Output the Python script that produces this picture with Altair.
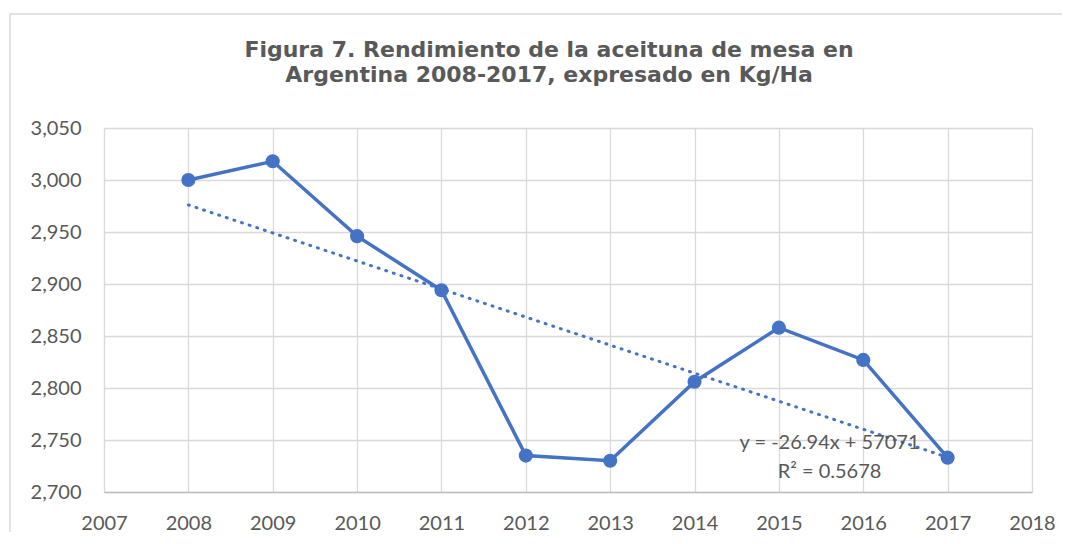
import altair as alt
import pandas as pd

# ---- data ----
years = [2008, 2009, 2010, 2011, 2012, 2013, 2014, 2015, 2016, 2017]
rendimiento = [3000, 3018, 2946, 2894, 2735, 2730, 2806, 2858, 2827, 2733]
x_ticks = list(range(2007, 2019))
y_ticks = [2700, 2750, 2800, 2850, 2900, 2950, 3000, 3050]
title_lines = ["Figura 7. Rendimiento de la aceituna de mesa en",
               "Argentina 2008-2017, expresado en Kg/Ha"]
eq_labels = ["y = -26.94x + 57071", "R² = 0.5678"]
eq_x = [2015.6, 2015.6]
eq_y = [2747, 2719]

df = pd.DataFrame({"Año": years, "Rendimiento": rendimiento})
eq_df = pd.DataFrame({"x": eq_x, "y": eq_y, "label": eq_labels})

BLUE = "#4472C4"
GREY = "#595959"
GRID = "#d9d9d9"

xs = alt.Scale(domain=[2007, 2018], nice=False, zero=False)
ys = alt.Scale(domain=[2700, 3050], nice=False, zero=False)

x_enc = alt.X("Año:Q", scale=xs,
              axis=alt.Axis(values=x_ticks, format="d", title=None,
                            labelPadding=21, labelFlush=False,
                            domain=True, domainColor="#bfbfbf",
                            domainWidth=1.3))
y_enc = alt.Y("Rendimiento:Q", scale=ys,
              axis=alt.Axis(values=y_ticks, format=",.0f", title=None,
                            labelPadding=23, labelFlush=False, domain=False))

base = alt.Chart(df)

trend = base.transform_regression("Año", "Rendimiento").mark_line(
    color=BLUE, strokeWidth=3, strokeDash=[1, 7], strokeCap="round"
).encode(x=x_enc, y=y_enc)

line = base.mark_line(color=BLUE, strokeWidth=3.5).encode(x=x_enc, y=y_enc)

points = base.mark_point(filled=True, color=BLUE, size=200, opacity=1).encode(
    x=x_enc, y=y_enc)

eq_text = alt.Chart(eq_df).mark_text(
    font="Lato", fontSize=20, color=GREY, align="center", baseline="middle"
).encode(
    x=alt.X("x:Q", scale=xs),
    y=alt.Y("y:Q", scale=ys),
    text="label:N",
)

frame = alt.Chart(alt.Data(values=[{"a": 1}])).mark_rect(
    fill=None, stroke=GRID, strokeWidth=1.5
).encode(
    x=alt.value(-94), x2=alt.value(990),
    y=alt.value(-114), y2=alt.value(440),
)

chart = alt.layer(frame, trend, line, points, eq_text).properties(
    width=928,
    height=364,
    padding={"left": 96, "top": 120, "right": 30, "bottom": 40},
    autosize=alt.AutoSizeParams(type="none"),
    title=alt.TitleParams(
        text=title_lines, font="DejaVu Sans", fontWeight="bold", fontSize=22,
        color=GREY, lineHeight=25, anchor="middle", frame="group",
        dx=-19, offset=-74,
    ),
).configure_axis(
    labelFont="Lato", labelFontSize=20, labelColor=GREY,
    gridColor=GRID, gridWidth=1.3, ticks=False, tickSize=0,
).configure_view(
    stroke=None
)

chart.save("out.html", embed_options={"renderer": "svg", "actions": False})
